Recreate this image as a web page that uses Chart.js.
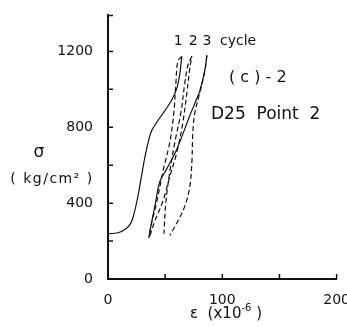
<!DOCTYPE html>
<html>
<head>
<meta charset="utf-8">
<script src="https://cdn.jsdelivr.net/npm/chart.js@4/dist/chart.umd.min.js"></script>
<style>
  html, body { margin: 0; background: #fff; overflow: hidden; }
  canvas { display: block; }
</style>
</head>
<body>
<canvas id="chart" width="350" height="327"></canvas>
<script>
// ── Data (strain x10^-6, stress kg/cm²) ────────────────────────────

const firstLoad = [[0, 239], [8.7, 244], [15.7, 265], [20.1, 296], [22.7, 343], [25.3, 410], [28.8, 525],
  [32.3, 644], [35.8, 738], [38.4, 784], [43.7, 836], [49.8, 888], [55.9, 945], [60.3, 1008],
  [62.9, 1086], [64.6, 1174]];
const unload1 = [[64.6, 1174], [61.1, 1148], [59.4, 1034], [57.6, 878], [54.1, 722], [48.0, 566],
  [42.8, 410], [37.6, 281], [35.8, 218]];
const load2 = [[36.7, 229], [41.0, 306], [48.0, 410], [54.1, 540], [60.3, 670], [65.5, 826],
  [69.0, 982], [71.6, 1112], [73.4, 1174]];
const unload2 = [[73.4, 1174], [69.9, 1127], [67.2, 1034], [63.8, 878], [58.5, 722], [54.1, 566],
  [50.7, 410], [48.9, 239]];
const load3 = [[35.8, 218], [38.4, 306], [41.0, 384], [45.4, 514], [51.5, 582], [60.3, 686],
  [71.6, 862], [76.9, 940], [80.3, 992], [84.7, 1101], [86.5, 1179]];
const unload3 = [[86.5, 1179], [84.7, 1096], [80.3, 982], [76.0, 878], [74.2, 774], [73.4, 618],
  [71.6, 488], [67.2, 384], [61.1, 306], [54.1, 229]];

const xTicks = [0, 50, 100, 150, 200];
const yTicks = [0, 200, 400, 600, 800, 1000, 1200];
const xLabels = [0, 100, 200];
const yLabels = [0, 400, 800, 1200];
const yTop = 1390;
const cycleLabels = [['1', 61.5], ['2', 74.5], ['3', 86.5]];

// ── Helpers ────────────────────────────────────────────────────────

const INK = '#111';
const FONT = '"DejaVu Sans", sans-serif';

function curve(points, dashed) {
  return {
    data: points.map(([x, y]) => ({ x, y })),
    showLine: true,
    borderColor: INK,
    borderWidth: 1.2,
    borderDash: dashed ? [5, 3] : [],
    pointRadius: 0,
    tension: 0.35,
    fill: false,
  };
}

const fixedTicks = values => scale => { scale.ticks = values.map(value => ({ value })); };

// inward tick marks + free text on the figure
const figureExtras = {
  id: 'figureExtras',
  afterDraw(chart) {
    const { ctx, chartArea: a, scales: { x, y } } = chart;
    ctx.save();
    ctx.strokeStyle = INK;
    ctx.lineWidth = 1.5;
    ctx.beginPath();
    xTicks.forEach(v => {
      const px = x.getPixelForValue(v);
      ctx.moveTo(px, a.bottom); ctx.lineTo(px, a.bottom - 5);
    });
    [...yTicks, yTop].forEach(v => {
      const py = y.getPixelForValue(v);
      ctx.moveTo(a.left, py); ctx.lineTo(a.left + 5, py);
    });
    ctx.stroke();

    ctx.fillStyle = INK;
    ctx.textBaseline = 'middle';
    ctx.textAlign = 'center';
    ctx.font = `14px ${FONT}`;
    cycleLabels.forEach(([t, v]) => ctx.fillText(t, x.getPixelForValue(v), 41));
    ctx.textAlign = 'left';
    ctx.fillText('cycle', 220, 41);

    ctx.font = `16px ${FONT}`;
    ctx.fillText('( c ) - 2', 229, 78);
    ctx.font = `17px ${FONT}`;
    ctx.fillText('D25  Point  2', 211, 115);

    // y axis title
    ctx.textAlign = 'center';
    ctx.font = `17px ${FONT}`;
    ctx.fillText('σ', 39, 153);
    ctx.font = `14px ${FONT}`;
    ctx.letterSpacing = '1.5px';
    ctx.fillText('( kg/cm² )', 52, 179);
    ctx.letterSpacing = '0px';

    // x axis title with raised exponent
    const base = `15px ${FONT}`, sup = `10px ${FONT}`;
    const parts = [['ε  (x10', base, 0], ['-6', sup, -6], [' )', base, 0]];
    let w = 0;
    parts.forEach(([t, f]) => { ctx.font = f; w += ctx.measureText(t).width; });
    let cx = 226 - w / 2;
    ctx.textAlign = 'left';
    parts.forEach(([t, f, dy]) => {
      ctx.font = f;
      ctx.fillText(t, cx, 314 + dy);
      cx += ctx.measureText(t).width;
    });
    ctx.restore();
  },
};

// ── Chart ──────────────────────────────────────────────────────────

new Chart(document.getElementById('chart'), {
  type: 'scatter',
  data: {
    datasets: [
      curve(firstLoad, false),
      curve(unload1, true),
      curve(load2, true),
      curve(unload2, true),
      curve(load3, false),
      curve(unload3, true),
    ],
  },
  options: {
    responsive: false,
    animation: false,
    devicePixelRatio: 1,
    layout: { padding: { top: -8, right: 0, left: 0, bottom: 0 } },
    plugins: { legend: { display: false }, tooltip: { enabled: false } },
    scales: {
      x: {
        type: 'linear', min: 0, max: 200,
        afterBuildTicks: fixedTicks(xTicks),
        afterFit: s => { s.height = 48; },
        grid: { display: false, tickLength: 13 },
        border: { display: true, color: INK, width: 2 },
        ticks: {
          padding: 0, color: INK, maxRotation: 0, autoSkip: false,
          font: { family: FONT, size: 14 },
          callback: v => (xLabels.includes(v) ? v : ''),
        },
      },
      y: {
        type: 'linear', min: 0, max: yTop,
        afterBuildTicks: fixedTicks(yTicks),
        afterFit: s => { s.width = 108; },
        grid: { display: false },
        border: { display: true, color: INK, width: 2 },
        ticks: {
          padding: 7, color: INK, autoSkip: false,
          font: { family: FONT, size: 14 },
          callback: v => (yLabels.includes(v) ? v : ''),
        },
      },
    },
  },
  plugins: [figureExtras],
});
</script>
</body>
</html>
